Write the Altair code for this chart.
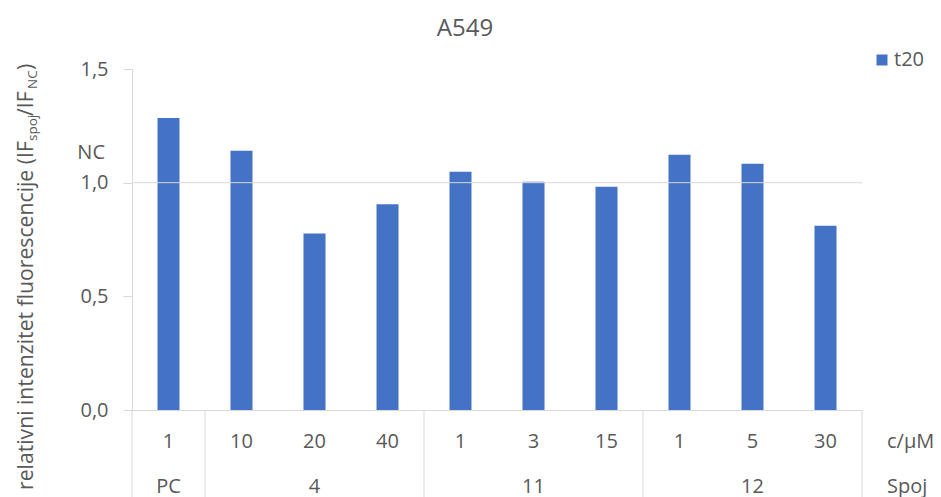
import altair as alt
import pandas as pd

# ---- data ----
conc = ["1", "10", "20", "40", "1", "3", "15", "1", "5", "30"]
compound = ["PC", "4", "4", "4", "11", "11", "11", "12", "12", "12"]
t20 = [1.284, 1.140, 0.776, 0.905, 1.048, 1.004, 0.982, 1.123, 1.083, 0.811]
group_names = ["PC", "4", "11", "12"]
group_sizes = [1, 3, 3, 3]
series_name = "t20"
y_ticks = [0.0, 0.5, 1.0, 1.5]

# ---- tables ----
keys = [f"k{i:02d}" for i in range(len(conc))]
df = pd.DataFrame({"key": keys, "conc": conc, "compound": compound,
                   "value": t20, "series": series_name})

starts, mids = [], []
pos = 0
for n in group_sizes:
    starts.append(keys[pos])
    mids.append(keys[pos + n // 2])
    pos += n
groups_df = pd.DataFrame({"name": group_names, "start": starts, "mid": mids})
end_df = pd.DataFrame({"end": [keys[-1]]})

TEXT = "#595959"
LINE = "#D9D9D9"
BLUE = "#4472C4"
FONT = "Open Sans"
W, H = 730, 341

xscale = alt.Scale(domain=keys, paddingInner=0, paddingOuter=0)
yscale = alt.Scale(domain=[0, 1.5])

base = alt.Chart(df)

bars = base.mark_bar(width=22).encode(
    x=alt.X("key:O", scale=xscale,
            axis=alt.Axis(labels=False, ticks=False, title=None,
                          domainColor=LINE, domainWidth=1)),
    y=alt.Y("value:Q", scale=yscale,
            axis=alt.Axis(values=y_ticks, grid=False, title=None,
                          labelExpr="replace(format(datum.value, '.1f'), '.', ',')",
                          labelFontSize=20, labelColor=TEXT, labelFont=FONT,
                          labelPadding=15, tickSize=9, tickColor=LINE,
                          domainColor=LINE)),
    color=alt.Color("series:N", scale=alt.Scale(range=[BLUE]),
                    legend=alt.Legend(title=None, orient="none", legendX=740, legendY=-19,
                                      symbolType="square", symbolSize=121,
                                      symbolStrokeWidth=0, labelFontSize=20,
                                      labelColor=TEXT, labelFont=FONT, padding=0,
                                      symbolOffset=0, labelOffset=2)),
)

nc_line = alt.Chart(pd.DataFrame({"y": [1.0]})).mark_rule(color=LINE, strokeWidth=1).encode(
    y=alt.Y("y:Q", scale=yscale)
)

conc_text = base.mark_text(fontSize=20, color=TEXT, font=FONT, baseline="middle").encode(
    x=alt.X("key:O", scale=xscale), y=alt.value(373), text="conc:N"
)

grp_text = alt.Chart(groups_df).mark_text(fontSize=20, color=TEXT, font=FONT,
                                           baseline="middle").encode(
    x=alt.X("mid:O", scale=xscale), y=alt.value(418), text="name:N"
)

sep = alt.Chart(groups_df).mark_rule(color=LINE, strokeWidth=1).encode(
    x=alt.X("start:O", scale=xscale, bandPosition=0),
    y=alt.value(H), y2=alt.value(H + 100)
)
sep_end = alt.Chart(end_df).mark_rule(color=LINE, strokeWidth=1).encode(
    x=alt.X("end:O", scale=xscale, bandPosition=1),
    y=alt.value(H), y2=alt.value(H + 100)
)


def label(text, x, y, size=20, align="left", baseline="middle", angle=0):
    kw = dict(fontSize=size, color=TEXT, font=FONT, align=align, baseline=baseline)
    if angle:
        kw["angle"] = angle
    return alt.Chart(pd.DataFrame({"t": [text]})).mark_text(**kw).encode(
        x=alt.value(x), y=alt.value(y), text="t:N")


row_titles = [label("c/μM", 755, 373), label("Spoj", 755, 418)]
nc_label = label("NC", -27, 84, align="right")

# y-axis title built from pieces (with subscripts)
ytitle = [
    label("relativni intenzitet fluorescencije (IF", -99, 421, 21.2, baseline="alphabetic", angle=270),
    label("spoj", -95, 72, 13.5, baseline="alphabetic", angle=270),
    label("/IF", -99, 47, 21.2, baseline="alphabetic", angle=270),
    label("NC", -95, 20, 13.5, baseline="alphabetic", angle=270),
    label(")", -99, 1, 21.2, baseline="alphabetic", angle=270),
]

chart = alt.layer(bars, nc_line, sep, sep_end, conc_text, grp_text, *row_titles,
                  nc_label, *ytitle).properties(
    width=W, height=H,
    title=alt.TitleParams("A549", fontSize=24, color=TEXT, font=FONT,
                          fontWeight="normal", anchor="middle", frame="group",
                          dx=-32, offset=9),
    autosize=alt.AutoSizeParams(type="none"),
    padding={"left": 124, "top": 61, "right": 71, "bottom": 90},
).configure(font=FONT).configure_view(stroke="transparent", strokeWidth=0)

chart.save("out.html", embed_options={"renderer": "svg", "actions": False})
